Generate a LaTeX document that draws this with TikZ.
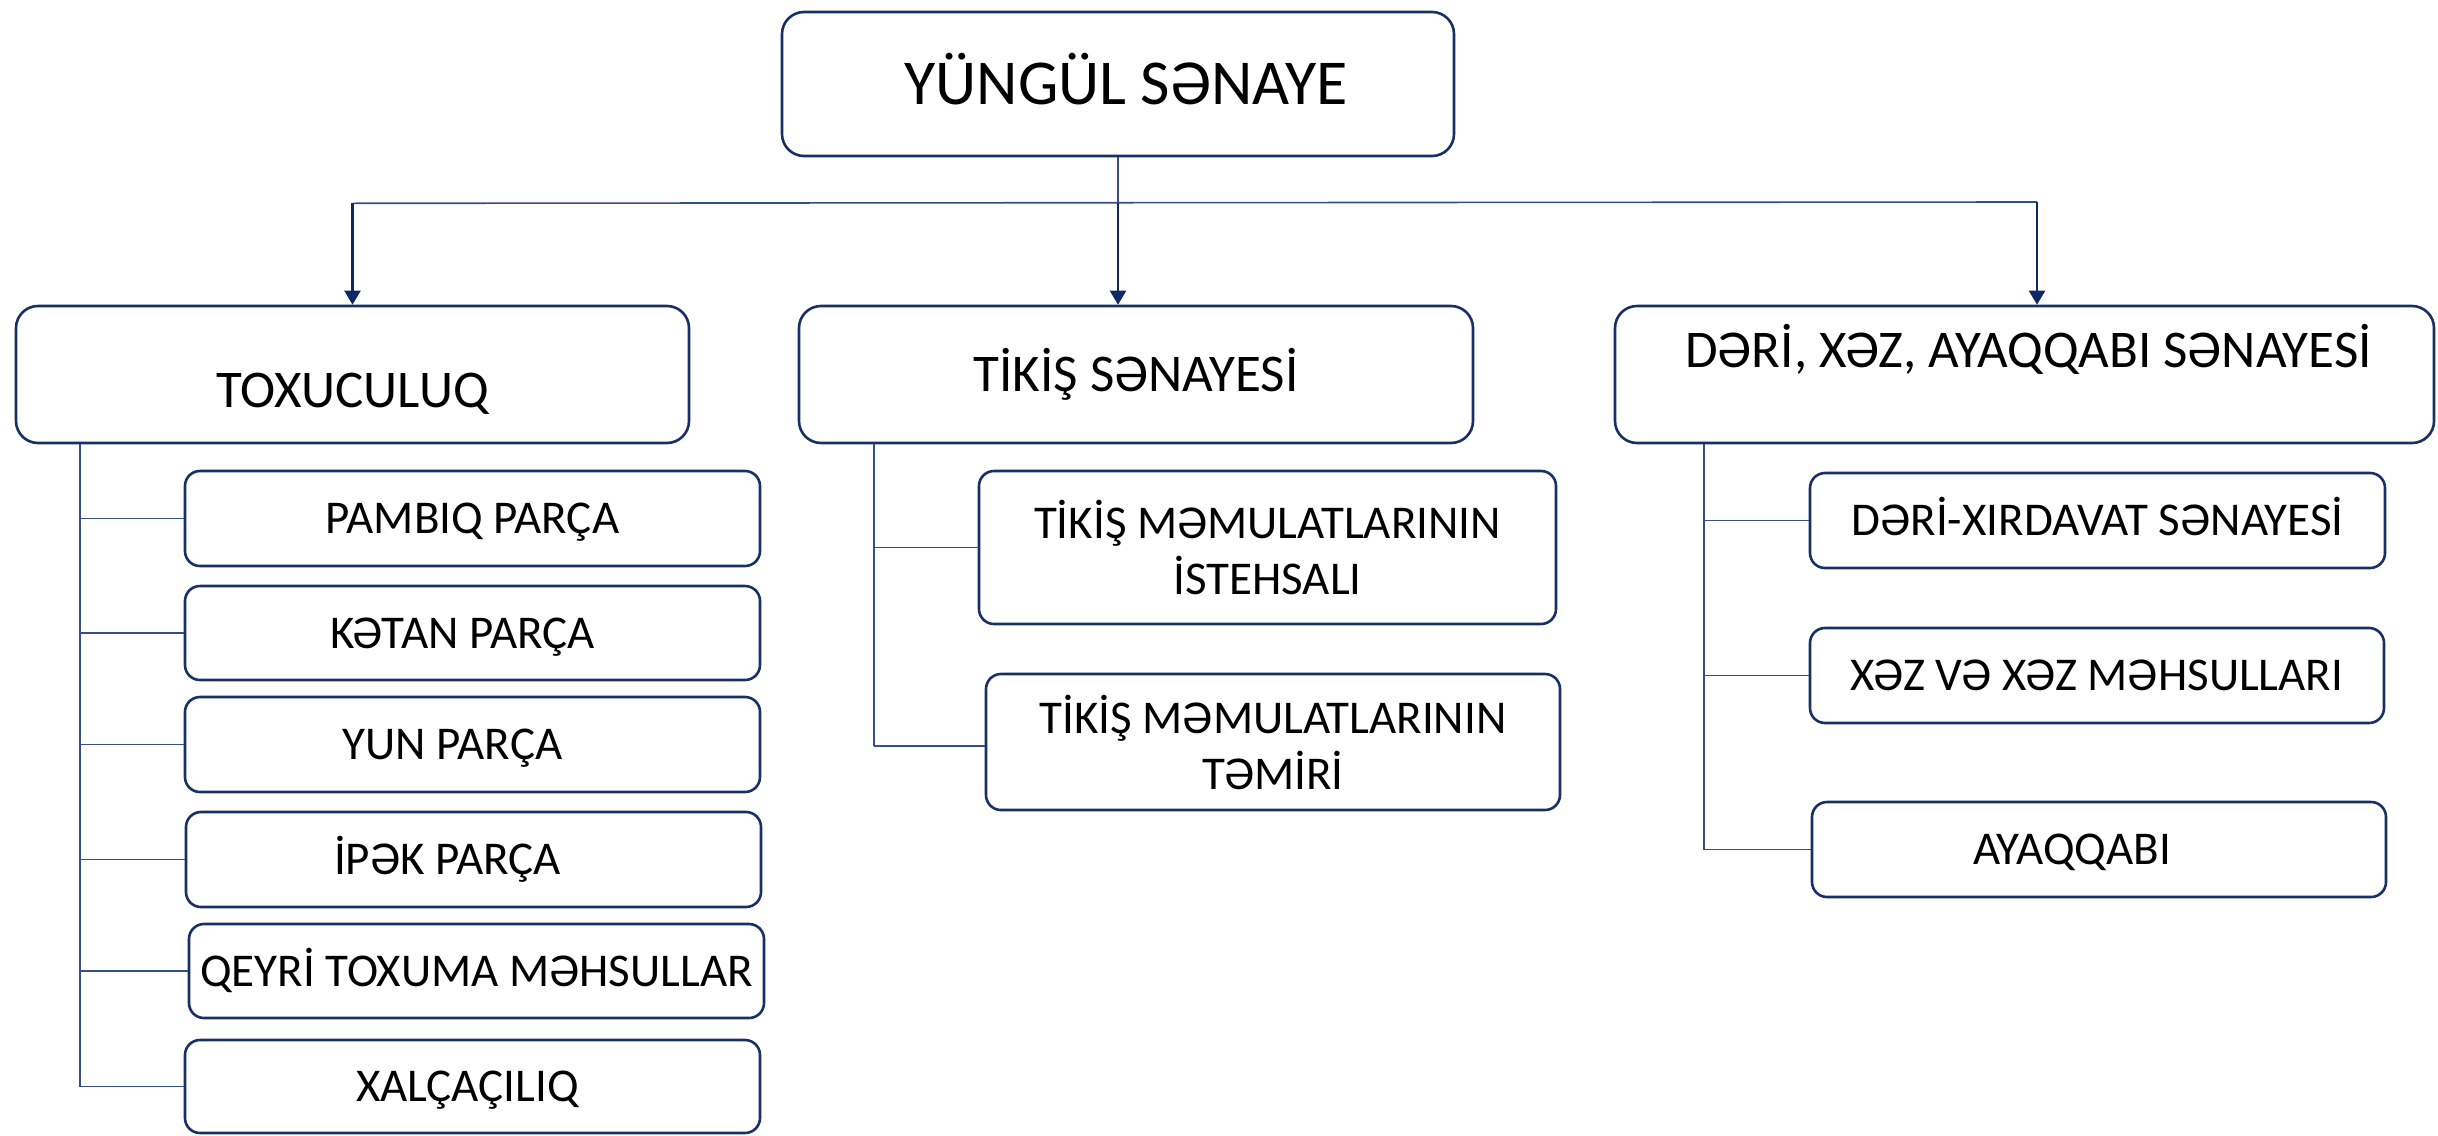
\documentclass[tikz,border=0pt]{standalone}
\usepackage{fontspec}
\setmainfont{Carlito}
\usetikzlibrary{arrows.meta,calc}
\definecolor{navy}{RGB}{24,48,102}
\definecolor{conn}{RGB}{52,78,136}
\definecolor{arr}{RGB}{14,40,100}
\begin{document}
\begin{tikzpicture}[x=1pt,y=-1pt,
  box/.style={draw=navy,line width=2.6pt,rounded corners=22pt,fill=white,inner sep=0pt,text=black},
  subbox/.style={draw=navy,line width=2.6pt,rounded corners=15pt,fill=white,inner sep=0pt,text=black,
     font=\fontsize{47}{56}\selectfont},
  one/.style={text height=30pt,text depth=0pt},
  lvltwo/.style={font=\fontsize{53}{64}\selectfont,text height=34pt,text depth=0pt},
  line/.style={draw=conn,line width=1.6pt},
  arrline/.style={draw=arr,line width=2.3pt,-{Triangle[length=14pt,width=16pt]}}]
\useasboundingbox[fill=white] (0,0) rectangle (2438,1135);
% top
\node[box,minimum width=672pt,minimum height=144pt] (title) at (1118,84) {};
\node[font=\fontsize{64}{77}\selectfont,text height=41pt,text depth=0pt] (titlet) at ($(title.center)+(8,0)$) {YÜNGÜL SƏNAYE};
% level 2
\node[box,minimum width=673pt,minimum height=137pt] (tox) at (352.5,374.5) {};
\node[lvltwo] (toxt) at ($(tox.center)+(0,16)$) {TOXUCULUQ};
\node[box,lvltwo,minimum width=674pt,minimum height=137pt] (tik) at (1136,374.5) {TİKİŞ SƏNAYESİ};
\node[box,minimum width=819pt,minimum height=137pt] (der) at (2024.5,374.5) {};
\node[lvltwo] (dert) at ($(der.center)+(4,-24)$) {DƏRİ, XƏZ, AYAQQABI SƏNAYESİ};
% bus
\coordinate (hub) at ($(title.south)+(0,46)$);
\coordinate (busL) at (tox.north |- hub);
\coordinate (busR) at (2037,202);
\draw[line] (title.south) -- (hub);
\draw[line] (busL) -- (busR);
\draw[arrline] (busL) -- (tox.north);
\draw[arrline] (hub) -- (hub |- tik.north);
\draw[arrline] (busR) -- (busR |- der.north);
% left subs
\node[subbox,one,minimum width=575pt,minimum height=95pt] (pam) at (472.5,518.5) {PAMBIQ PARÇA};
\node[subbox,one,minimum width=575pt,minimum height=94pt] (ket) at (472.5,633) {KƏTAN PARÇA\hspace*{20pt}};
\node[subbox,one,minimum width=575pt,minimum height=95pt] (yun) at (472.5,744.5) {YUN PARÇA\hspace*{40pt}};
\node[subbox,one,minimum width=575pt,minimum height=95pt] (ipk) at (473.5,859.5) {İPƏK PARÇA\hspace*{52pt}};
\node[subbox,one,minimum width=575pt,minimum height=94pt] (qey) at (476.5,971) {QEYRİ TOXUMA MƏHSULLAR};
\node[subbox,one,minimum width=575pt,minimum height=93pt] (xal) at (472.5,1086.5) {XALÇAÇILIQ\hspace*{10pt}};
\coordinate (lt) at ($(tox.south west)+(65,0)$);
\draw[line] (lt) -- (lt |- xal.west);
\foreach \n in {pam,ket,yun,ipk,qey,xal} \draw[line] (lt |- \n.west) -- (\n.west);
% middle subs
\node[subbox,minimum width=577pt,minimum height=153pt,align=center] (ist) at (1267.5,547.5) {TİKİŞ MƏMULATLARININ\\İSTEHSALI};
\node[subbox,minimum width=574pt,minimum height=136pt,align=center] (tem) at (1273,742) {TİKİŞ MƏMULATLARININ\\TƏMİRİ};
\coordinate (mt) at ($(tik.south west)+(76,0)$);
\draw[line] (mt) -- (mt |- 0,746);
\draw[line] (mt |- ist.west) -- (ist.west);
\draw[line] (mt |- 0,746) -- (tem.west |- 0,746);
% right subs
\node[subbox,one,minimum width=575pt,minimum height=95pt] (dxs) at (2097.5,520.5) {DƏRİ-XIRDAVAT SƏNAYESİ};
\node[subbox,one,minimum width=574pt,minimum height=95pt] (xez) at (2097,675.5) {XƏZ VƏ XƏZ MƏHSULLARI};
\node[subbox,one,minimum width=574pt,minimum height=95pt] (ayq) at (2099,849.5) {AYAQQABI\hspace*{54pt}};
\coordinate (rt) at ($(der.south west)+(90,0)$);
\draw[line] (rt) -- (rt |- ayq.west);
\foreach \n in {dxs,xez,ayq} \draw[line] (rt |- \n.west) -- (\n.west);
\end{tikzpicture}
\end{document}
